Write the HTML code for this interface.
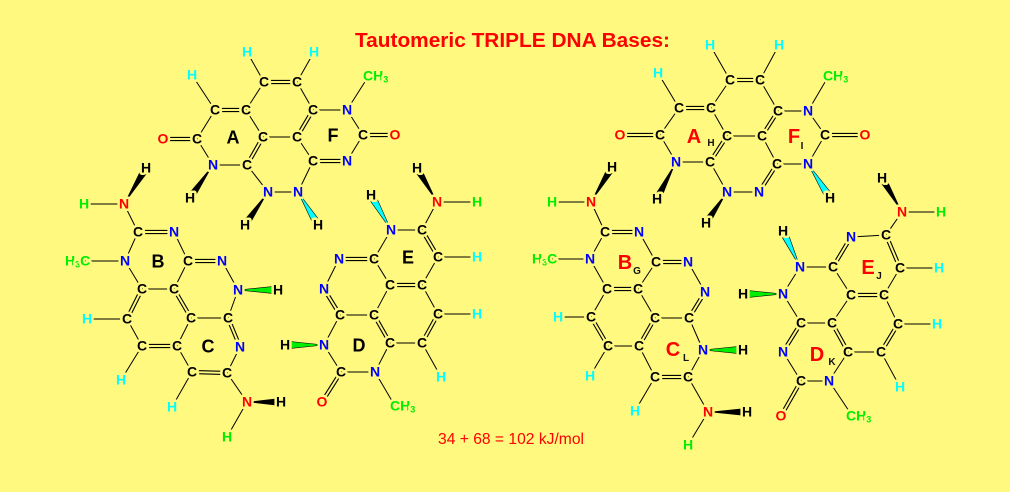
<!DOCTYPE html>
<html><head><meta charset="utf-8"><style>
html,body{margin:0;padding:0;background:#FFF980;}
svg{display:block}
text{font-family:"Liberation Sans",Arial,sans-serif;font-weight:bold;font-size:14px;text-anchor:middle;paint-order:stroke;stroke:#FFF980;stroke-width:5px;stroke-linejoin:round}
.c{fill:#000}.n{fill:#0000FF}.r{fill:#FF0000}.hc{fill:#00FFFF}.hg{fill:#00EE00}.hk{fill:#000}
.s{text-anchor:start}
.ring{font-size:18px;stroke:none;fill:#000}
.ringr{font-size:20px;stroke:none;fill:#FF0000}
.sm{font-size:10px;stroke:none;fill:#111}
</style></head><body>
<svg width="1010" height="492" viewBox="0 0 1010 492" xmlns="http://www.w3.org/2000/svg">
<rect width="1010" height="492" fill="#FFF980"/>
<text x="512.5" y="47" style="font-size:20px;stroke:none;fill:#FF0000" textLength="315" lengthAdjust="spacingAndGlyphs">Tautomeric TRIPLE DNA Bases:</text>
<text x="511" y="444" style="font-size:16px;font-weight:normal;stroke:none;fill:#FF0000" textLength="146" lengthAdjust="spacingAndGlyphs">34 + 68 = 102 kJ/mol</text>

<!-- single bonds -->
<path fill="none" stroke="#000" stroke-width="1" d="
M247 52L264 82M314 52L297 82M264 82L246 110M297 82L313 110M192 75L215 110M246 110L263 137M313 110L347 110M347 110L368 77M347 110L363 135M363 135L347 161M313 161L297 137M313 161L298 192M263 137L297 137M197 139L215 110M197 139L213 165M213 165L247 165M247 165L268 192M268 192L298 192
M124 204L84 204M124 204L138 232M138 232L125 261M125 261L84 261M174 232L188 261M222 261L238 290M188 261L174 289M125 261L142 289M142 289L174 289M127 319L87 319M127 319L142 346M142 346L121 380M191 318L228 318M191 318L177 346M228 318L238 290M240 347L227 373M192 372L177 346M192 372L172 407M227 373L247 402M247 402L227 437
M437 202L477 202M437 202L422 230M391 230L422 230M438 257L477 257M391 230L374 259M339 259L324 289M340 315L374 315M340 315L324 345M374 259L390 285M422 285L438 257M422 285L438 314M438 314L477 314M422 343L390 343M422 343L441 377M390 285L374 315M390 343L375 372M375 372L341 372M375 372L395 406M341 372L324 345
M710 45L730 80M779 45L760 80M730 80L711 108M760 80L778 111M658 73L679 108M679 108L660 135M660 135L676 162M676 162L710 162M711 108L727 136M727 136L762 136M778 111L808 111M808 111L828 77M808 111L825 135M825 135L808 164M808 164L777 164M777 164L762 136M759 192L727 192M727 192L710 162
M591 202L552 202M591 202L605 232M605 232L590 259M590 259L550 259M590 259L607 289M639 232L656 262M688 262L705 292M656 262L638 289M607 289L591 317M591 317L558 317M608 346L639 346M608 346L590 376M638 289L655 318M655 318L689 318M639 346L655 377M655 377L635 411M688 377L703 350M703 350L689 318M688 377L708 412M708 412L688 445
M902 212L941 212M902 212L886 235M886 235L851 237M900 268L939 268M900 268L884 295M833 267L800 267M800 267L783 294M783 294L801 323M801 323L832 323M783 352L801 381M801 381L829 381M829 381L851 414M829 381L848 352M833 267L851 295M851 295L832 323M884 295L898 324M898 324L937 324M881 352L848 352M881 352L900 387"/>

<!-- double bonds -->
<g fill="none">
<path stroke="#000" stroke-width="4.2" d="
M264 82L297 82M215 110L246 110M313 110L297 137M363 135L395 135M313 161L347 161M263 137L247 165M197 139L163 139
M138 232L174 232M188 261L222 261M142 289L127 319M142 346L177 346M174 289L191 318M228 318L240 347M192 372L227 373
M422 230L438 257M374 259L339 259M324 289L340 315M390 285L422 285M438 314L422 343M374 315L390 343M341 372L322 402
M730 80L760 80M679 108L711 108M660 135L620 135M710 162L727 136M762 136L778 111M825 135L865 135M777 164L759 192
M605 232L639 232M607 289L638 289M656 262L688 262M705 292L689 318M591 317L608 346M655 318L639 346M655 377L688 377
M851 237L833 267M886 235L900 268M801 323L783 352M801 381L781 416M848 352L832 323M851 295L884 295M898 324L881 352"/>
<path stroke="#FFF980" stroke-width="2" d="
M264 82L297 82M215 110L246 110M313 110L297 137M363 135L395 135M313 161L347 161M263 137L247 165M197 139L163 139
M138 232L174 232M188 261L222 261M142 289L127 319M142 346L177 346M174 289L191 318M228 318L240 347M192 372L227 373
M422 230L438 257M374 259L339 259M324 289L340 315M390 285L422 285M438 314L422 343M374 315L390 343M341 372L322 402
M730 80L760 80M679 108L711 108M660 135L620 135M710 162L727 136M762 136L778 111M825 135L865 135M777 164L759 192
M605 232L639 232M607 289L638 289M656 262L688 262M705 292L689 318M591 317L608 346M655 318L639 346M655 377L688 377
M851 237L833 267M886 235L900 268M801 323L783 352M801 381L781 416M848 352L832 323M851 295L884 295M898 324L881 352"/>
</g>

<!-- wedges -->
<g fill="#000">
<polygon points="213,165 186.7,195.7 193.3,200.3"/>
<polygon points="268,192 241.7,222.7 248.3,227.3"/>
<polygon points="124,204 149.4,170.1 142.6,165.9"/>
<polygon points="247,402 281,398 281,406"/>
<polygon points="437,202 420.4,166 413.6,170"/>
<polygon points="676,162 653.4,197.2 660.6,200.8"/>
<polygon points="727,192 702.7,220.8 709.3,225.2"/>
<polygon points="591,202 615.4,169.1 608.6,164.9"/>
<polygon points="708,412 747,408 747,416"/>
<polygon points="902,212 885.4,176 878.6,180"/>
</g>
<g fill="#00FFFF" stroke="#000" stroke-width="0.6">
<polygon points="298,192 314.6,227.1 321.4,222.9"/>
<polygon points="391,230 374.5,193 367.5,197"/>
<polygon points="808,164 826.6,200.2 833.4,195.8"/>
<polygon points="800,267 786.6,229.3 779.4,232.7"/>
</g>
<g fill="#00EE00" stroke="#000" stroke-width="0.6">
<polygon points="238,290 278,286 278,294"/>
<polygon points="324,345 285,341 285,349"/>
<polygon points="703,350 743,346 743,354"/>
<polygon points="783,294 743,290 743,298"/>
</g>

<!-- C atoms -->
<g class="c">
<text x="264" y="86.7">C</text><text x="297" y="86.7">C</text><text x="215" y="114.7">C</text><text x="246" y="114.7">C</text><text x="313" y="114.7">C</text><text x="197" y="143.7">C</text><text x="263" y="141.7">C</text><text x="297" y="141.7">C</text><text x="363" y="139.7">C</text><text x="247" y="169.7">C</text><text x="313" y="165.7">C</text>
<text x="138" y="236.7">C</text><text x="188" y="265.7">C</text><text x="142" y="293.7">C</text><text x="174" y="293.7">C</text><text x="127" y="323.7">C</text><text x="191" y="322.7">C</text><text x="228" y="322.7">C</text><text x="142" y="350.7">C</text><text x="177" y="350.7">C</text><text x="192" y="376.7">C</text><text x="227" y="377.7">C</text>
<text x="422" y="234.7">C</text><text x="374" y="263.7">C</text><text x="438" y="261.7">C</text><text x="390" y="289.7">C</text><text x="422" y="289.7">C</text><text x="340" y="319.7">C</text><text x="374" y="319.7">C</text><text x="438" y="318.7">C</text><text x="390" y="347.7">C</text><text x="422" y="347.7">C</text><text x="341" y="376.7">C</text>
<text x="730" y="84.7">C</text><text x="760" y="84.7">C</text><text x="679" y="112.7">C</text><text x="711" y="112.7">C</text><text x="778" y="115.7">C</text><text x="660" y="139.7">C</text><text x="727" y="140.7">C</text><text x="762" y="140.7">C</text><text x="825" y="139.7">C</text><text x="710" y="166.7">C</text><text x="777" y="168.7">C</text>
<text x="605" y="236.7">C</text><text x="656" y="266.7">C</text><text x="607" y="293.7">C</text><text x="638" y="293.7">C</text><text x="591" y="321.7">C</text><text x="655" y="322.7">C</text><text x="689" y="322.7">C</text><text x="608" y="350.7">C</text><text x="639" y="350.7">C</text><text x="655" y="381.7">C</text><text x="688" y="381.7">C</text>
<text x="886" y="239.7">C</text><text x="833" y="271.7">C</text><text x="900" y="272.7">C</text><text x="851" y="299.7">C</text><text x="884" y="299.7">C</text><text x="801" y="327.7">C</text><text x="832" y="327.7">C</text><text x="898" y="328.7">C</text><text x="848" y="356.7">C</text><text x="881" y="356.7">C</text><text x="801" y="385.7">C</text>
</g>
<!-- N blue -->
<g class="n">
<text x="347" y="114.7">N</text><text x="213" y="169.7">N</text><text x="347" y="165.7">N</text><text x="268" y="196.7">N</text><text x="298" y="196.7">N</text>
<text x="174" y="236.7">N</text><text x="125" y="265.7">N</text><text x="222" y="265.7">N</text><text x="238" y="294.7">N</text><text x="240" y="351.7">N</text>
<text x="391" y="234.7">N</text><text x="339" y="263.7">N</text><text x="324" y="293.7">N</text><text x="324" y="349.7">N</text><text x="375" y="376.7">N</text>
<text x="808" y="115.7">N</text><text x="676" y="166.7">N</text><text x="808" y="168.7">N</text><text x="727" y="196.7">N</text><text x="759" y="196.7">N</text>
<text x="639" y="236.7">N</text><text x="590" y="263.7">N</text><text x="688" y="266.7">N</text><text x="705" y="296.7">N</text><text x="703" y="354.7">N</text>
<text x="851" y="241.7">N</text><text x="800" y="271.7">N</text><text x="783" y="298.7">N</text><text x="783" y="356.7">N</text><text x="829" y="385.7">N</text>
</g>
<!-- red N and O -->
<g class="r">
<text x="124" y="208.7">N</text><text x="247" y="406.7">N</text><text x="437" y="206.7">N</text><text x="591" y="206.7">N</text><text x="708" y="416.7">N</text><text x="902" y="216.7">N</text>
<text x="163" y="143.7">O</text><text x="395" y="139.7">O</text><text x="322" y="406.7">O</text><text x="620" y="139.7">O</text><text x="865" y="139.7">O</text><text x="781" y="420.7">O</text>
</g>
<!-- cyan H -->
<g class="hc">
<text x="247" y="56.7">H</text><text x="314" y="56.7">H</text><text x="192" y="79.7">H</text><text x="87" y="323.7">H</text><text x="121" y="384.7">H</text><text x="172" y="411.7">H</text><text x="477" y="261.7">H</text><text x="477" y="318.7">H</text><text x="441" y="381.7">H</text>
<text x="710" y="49.7">H</text><text x="779" y="49.7">H</text><text x="658" y="77.7">H</text><text x="558" y="321.7">H</text><text x="590" y="380.7">H</text><text x="635" y="415.7">H</text><text x="939" y="272.7">H</text><text x="937" y="328.7">H</text><text x="900" y="391.7">H</text>
</g>
<!-- green H and methyls -->
<g class="hg">
<text x="84" y="208.7">H</text><text x="227" y="441.7">H</text><text x="477" y="206.7">H</text><text x="552" y="206.7">H</text><text x="688" y="449.7">H</text><text x="941" y="216.7">H</text>
<text class="s" x="363" y="80.7">CH<tspan font-size="9" dy="2">3</tspan></text>
<text class="s" x="65" y="265.7">H<tspan font-size="9" dy="2">3</tspan><tspan dy="-2">C</tspan></text>
<text class="s" x="390" y="410.7">CH<tspan font-size="9" dy="2">3</tspan></text>
<text class="s" x="823" y="80.7">CH<tspan font-size="9" dy="2">3</tspan></text>
<text class="s" x="532" y="263.7">H<tspan font-size="9" dy="2">3</tspan><tspan dy="-2">C</tspan></text>
<text class="s" x="846" y="420.7">CH<tspan font-size="9" dy="2">3</tspan></text>
</g>
<!-- black H -->
<g class="hk">
<text x="190" y="202.7">H</text><text x="245" y="229.7">H</text><text x="318" y="229.7">H</text><text x="146" y="172.7">H</text><text x="278" y="294.7">H</text><text x="281" y="406.7">H</text><text x="417" y="172.7">H</text><text x="371" y="199.7">H</text><text x="285" y="349.7">H</text>
<text x="657" y="203.7">H</text><text x="706" y="227.7">H</text><text x="830" y="202.7">H</text><text x="612" y="171.7">H</text><text x="743" y="354.7">H</text><text x="747" y="416.7">H</text><text x="882" y="182.7">H</text><text x="783" y="235.7">H</text><text x="743" y="298.7">H</text>
</g>
<!-- ring labels -->
<text class="ring" x="233" y="143.5">A</text><text class="ring" x="333" y="141.5">F</text><text class="ring" x="158" y="267.5">B</text><text class="ring" x="208" y="352.5">C</text><text class="ring" x="408" y="263.5">E</text><text class="ring" x="359" y="351.5">D</text>
<text class="ringr" x="694" y="143">A</text><text class="ringr" x="794" y="143">F</text><text class="ringr" x="625" y="269">B</text><text class="ringr" x="673" y="356">C</text><text class="ringr" x="868" y="274">E</text><text class="ringr" x="817" y="361">D</text>
<text class="sm" x="711" y="146">H</text><text class="sm" x="802" y="149">I</text><text class="sm" x="637" y="274">G</text><text class="sm" x="686" y="361">L</text><text class="sm" x="879" y="279">J</text><text class="sm" x="832" y="365">K</text>
</svg>
</body></html>
